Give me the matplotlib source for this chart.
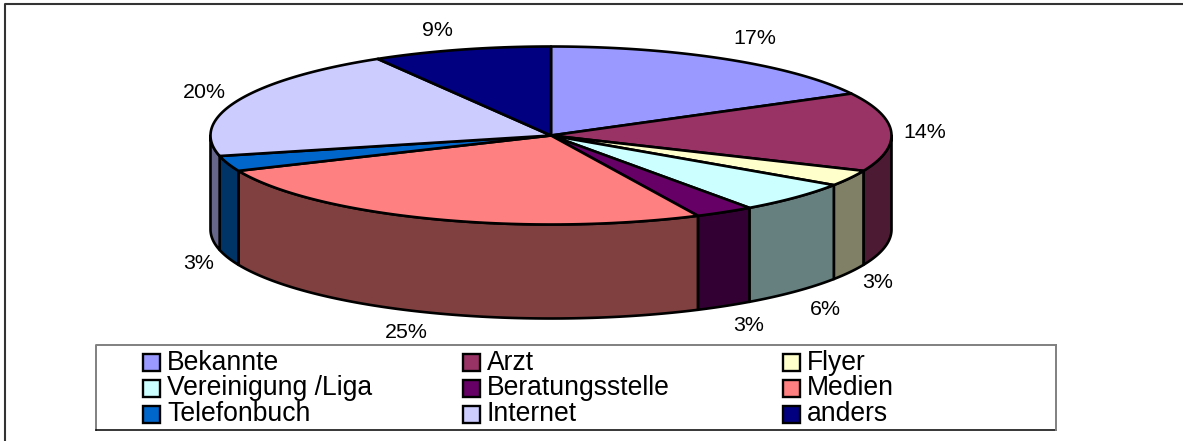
import numpy as np
import matplotlib
matplotlib.use("Agg")
import matplotlib.pyplot as plt
from matplotlib.patches import Polygon, Rectangle

plt.rcParams['font.family'] = ['Liberation Sans', 'DejaVu Sans']

categories = ["Bekannte", "Arzt", "Flyer", "Vereinigung /Liga", "Beratungsstelle",
              "Medien", "Telefonbuch", "Internet", "anders"]
shares = [17.2, 14.3, 2.9, 5.7, 2.8, 25.6, 2.8, 20.2, 8.5]
labels = ["17%", "14%", "3%", "6%", "3%", "25%", "3%", "20%", "9%"]
top_colors = ["#9999FF", "#993366", "#FFFFCC", "#CCFFFF", "#660066",
              "#FF8080", "#0066CC", "#CCCCFF", "#000080"]
side_colors = ["#66668A", "#4D1A33", "#808066", "#668080", "#330033",
               "#804040", "#003366", "#66668A", "#000040"]
label_pos = [(755, 39), (925, 132.5), (878, 283), (825, 309.5), (749, 325.5),
             (406, 332), (199, 263.5), (204, 92), (437, 30.5)]

W, H = 1183, 441
CX, CY, RX, RY, DEPTH = 551, 135.5, 340.5, 89, 94
fig = plt.figure(figsize=(W / 100, H / 100), dpi=100)
ax = fig.add_axes([0, 0, 1, 1])
ax.set_xlim(0, W)
ax.set_ylim(H, 0)
ax.axis("off")

# outer chart frame
ax.plot([5.5, 5.5, W], [H, 4, 4], color="#333333", lw=1.5, zorder=1)


def rim(a0, a1, dy=0.0):
    t = np.radians(np.linspace(a0, a1, max(int(abs(a1 - a0) * 2), 2)))
    return np.column_stack([CX + RX * np.sin(t), CY + dy - RY * np.cos(t)])


edges = np.concatenate([[0], np.cumsum(shares)]) / np.sum(shares) * 360

# side wall: only the front half of the disc (90..270 degrees clockwise from top)
for i in range(len(shares)):
    a0, a1 = max(edges[i], 90), min(edges[i + 1], 270)
    if a1 > a0:
        pts = np.vstack([rim(a0, a1), rim(a0, a1, DEPTH)[::-1]])
        ax.add_patch(Polygon(pts, closed=True, fc=side_colors[i], ec="black",
                             lw=1.9, joinstyle="round", zorder=2))

# top face
for i in range(len(shares)):
    pts = np.vstack([[CX, CY], rim(edges[i], edges[i + 1])])
    ax.add_patch(Polygon(pts, closed=True, fc=top_colors[i], ec="black",
                         lw=1.9, joinstyle="round", zorder=3))

for txt, (x, y) in zip(labels, label_pos):
    ax.text(x, y, txt, fontsize=15.4, ha="center", va="center", color="black", zorder=5)

# legend
ax.add_patch(Rectangle((96.5, 345), 960, 85, fc="white", ec="none", zorder=4))
ax.plot([96.5, 96.5, 1056.5], [430, 345, 345], color="#808080", lw=1.4, zorder=5)
ax.plot([96.5, 1056.5], [430, 430], color="black", lw=1.1, zorder=5)
ax.plot([1056.5, 1056.5], [430, 345], color="#808080", lw=1.4, zorder=5)
col_x = [143.5, 463.5, 783.5]
row_y = [362.5, 388.5, 414.5]
text_y = [363, 388, 414]
for i, name in enumerate(categories):
    x, y = col_x[i % 3], row_y[i // 3]
    ax.add_patch(Rectangle((x, y - 8.5), 17, 17, fc=top_colors[i], ec="black", lw=1.7, zorder=6))
    ax.text(x + 23.5, text_y[i // 3], name, fontsize=19.1, ha="left", va="center",
            color="black", zorder=6)

fig.savefig("out.png", dpi=100, facecolor="white")
